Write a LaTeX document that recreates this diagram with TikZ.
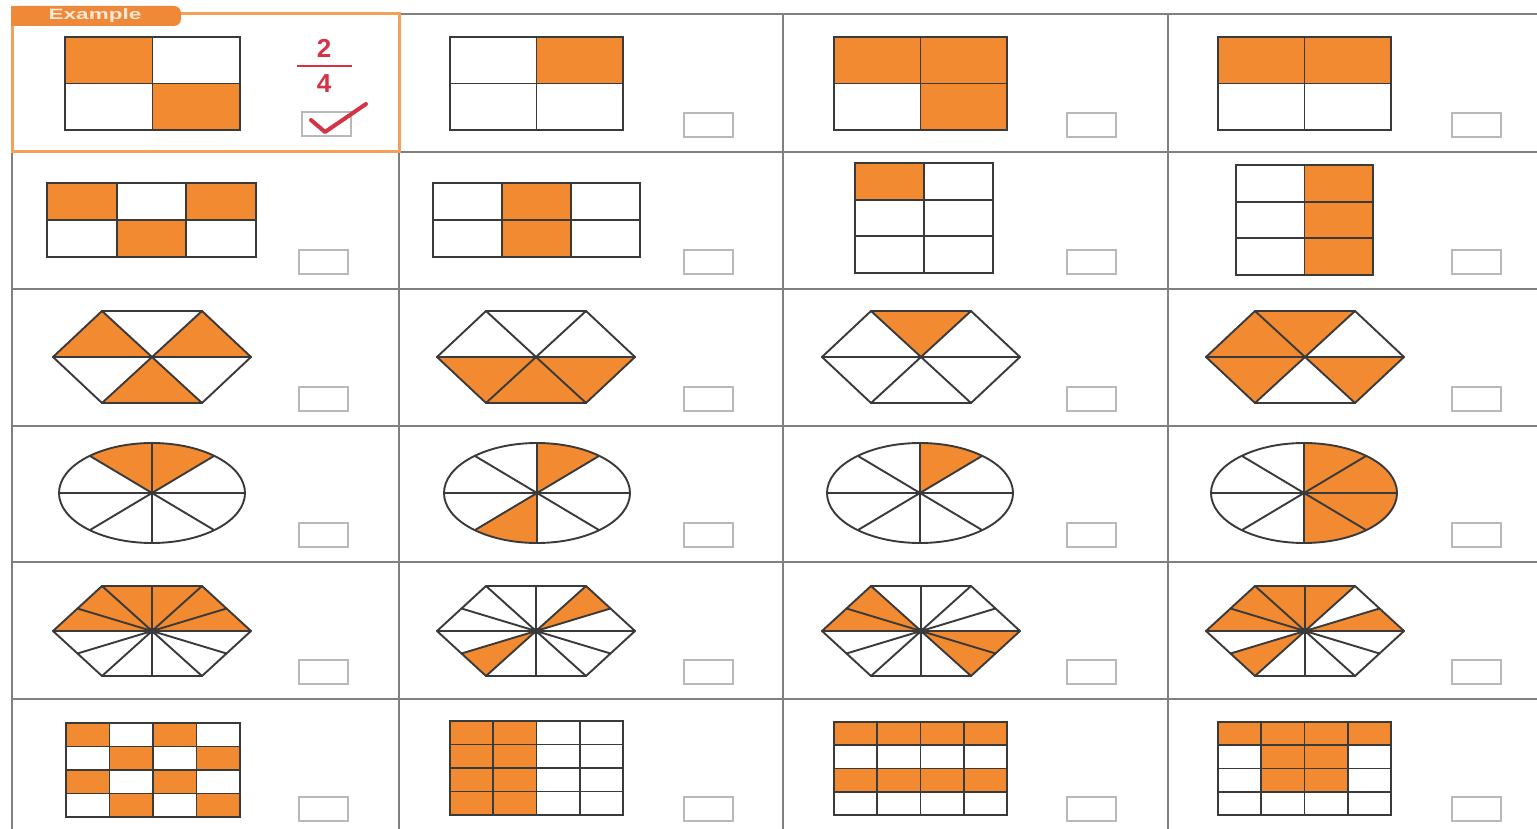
\documentclass[tikz,border=0pt]{standalone}
\usepackage{fontspec}
\setsansfont{Liberation Sans}
\definecolor{orng}{RGB}{242,138,50}
\definecolor{shapeline}{RGB}{58,58,58}
\definecolor{gridgray}{RGB}{128,128,128}
\definecolor{boxgray}{RGB}{185,185,185}
\definecolor{exborder}{RGB}{242,160,90}
\definecolor{extab}{RGB}{240,136,58}
\definecolor{extext}{RGB}{253,232,214}
\definecolor{fracred}{RGB}{214,50,70}
\tikzset{
  shp/.style={draw=shapeline, line width=1.9pt, line cap=round},
  gridln/.style={draw=gridgray, line width=1.8pt},
  cbox/.style={draw=boxgray, line width=1.8pt},
}
\newcommand{\mygrid}[7]{%
  \foreach \c/\r in {#7}{\fill[orng] ({#1+(\c-1)*(#3-#1)/#5},{#2+(\r-1)*(#4-#2)/#6}) rectangle ({#1+\c*(#3-#1)/#5},{#2+\r*(#4-#2)/#6});}
  \pgfmathtruncatemacro{\nca}{#5-1}\pgfmathtruncatemacro{\nra}{#6-1}
  \foreach \i in {1,...,\nca}{\draw[shp] ({#1+\i*(#3-#1)/#5},#2) -- ({#1+\i*(#3-#1)/#5},#4);}
  \foreach \i in {1,...,\nra}{\draw[shp] (#1,{#2+\i*(#4-#2)/#6}) -- (#3,{#2+\i*(#4-#2)/#6});}
  \draw[shp] (#1,#2) rectangle (#3,#4);
}
\newcommand{\hexsix}[3]{%
  \begin{scope}[shift={(#1,#2)}]
    \coordinate (h0) at (99,0);
    \coordinate (h1) at (50,-46);
    \coordinate (h2) at (-50,-46);
    \coordinate (h3) at (-99,0);
    \coordinate (h4) at (-50,46);
    \coordinate (h5) at (50,46);
    \foreach \k in {#3}{\pgfmathtruncatemacro{\kn}{mod(\k+1,6)}\fill[orng] (0,0) -- (h\k) -- (h\kn) -- cycle;}
    \draw[shp] (h0)--(h3) (h1)--(h4) (h2)--(h5);
    \draw[shp,line join=round] (h0)--(h1)--(h2)--(h3)--(h4)--(h5)--cycle;
  \end{scope}}
\newcommand{\hextwelve}[3]{%
  \begin{scope}[shift={(#1,#2)}]
    \coordinate (q0) at (99,0);
    \coordinate (q1) at (74.5,-22.5);
    \coordinate (q2) at (50,-45);
    \coordinate (q3) at (0,-45);
    \coordinate (q4) at (-50,-45);
    \coordinate (q5) at (-74.5,-22.5);
    \coordinate (q6) at (-99,0);
    \coordinate (q7) at (-74.5,22.5);
    \coordinate (q8) at (-50,45);
    \coordinate (q9) at (0,45);
    \coordinate (q10) at (50,45);
    \coordinate (q11) at (74.5,22.5);
    \foreach \k in {#3}{\pgfmathtruncatemacro{\kn}{mod(\k+1,12)}\fill[orng] (0,0) -- (q\k) -- (q\kn) -- cycle;}
    \draw[shp] (q0)--(q6) (q1)--(q7) (q2)--(q8) (q3)--(q9) (q4)--(q10) (q5)--(q11);
    \draw[shp,line join=round] (q0)--(q2)--(q4)--(q6)--(q8)--(q10)--cycle;
    \fill[shapeline] (0,0) circle (3.5);
  \end{scope}}
\newcommand{\ellsect}[3]{%
  \begin{scope}[shift={(#1,#2)}]
    \foreach \a/\b in {#3}{\fill[orng] (0,0) -- plot[domain=\a:\b,samples=16] ({93*cos(\x)},{-50*sin(\x)}) -- cycle;}
    \foreach \a in {0,48,90,132}{\draw[shp] ({93*cos(\a)},{-50*sin(\a)}) -- ({-93*cos(\a)},{50*sin(\a)});}
    \draw[shp] (0,0) ellipse [x radius=93, y radius=50];
    \fill[shapeline] (0,0) circle (2.5);
  \end{scope}}
\newcommand{\cbx}[2]{\draw[cbox] (#1,#2) rectangle ++(49,24);}
\begin{document}
\begin{tikzpicture}[x=1pt,y=-1pt]
\useasboundingbox (0,0) rectangle (1537,829);
\fill[white] (0,0) rectangle (1537,829);
% grid
\foreach \yy in {14,152,289,426,562,699}{\draw[gridln] (12,\yy) -- (1537,\yy);}
\foreach \xx in {12,399,783,1168}{\draw[gridln] (\xx,14) -- (\xx,829);}
% example border and tab
\draw[draw=exborder, line width=3pt] (12,14) rectangle (399,152);
\fill[extab, rounded corners=7pt] (11,6) rectangle (181,26);
\fill[extab] (11,6) rectangle (30,26);
\node[font=\sffamily\bfseries\fontsize{15}{15}\selectfont, text=extext, xscale=1.5, transform shape] (extitle) at (95,16) {Example};
% row 1
\mygrid{65}{37}{240}{130}{2}{2}{1/1,2/2}
\mygrid{450}{37}{623}{130}{2}{2}{2/1}
\mygrid{834}{37}{1007}{130}{2}{2}{1/1,2/1,2/2}
\mygrid{1218}{37}{1391}{130}{2}{2}{1/1,2/1}
% fraction & check
\node[font=\sffamily\bfseries\fontsize{26}{26}\selectfont, text=fracred] (num) at (324,48) {2};
\node[font=\sffamily\bfseries\fontsize{26}{26}\selectfont, text=fracred] (den) at (324,84) {4};
\draw[draw=fracred, line width=2.4pt] (297,66) -- (352,66);
\cbx{302}{112}
\draw[draw=fracred, line width=4pt, line cap=round, line join=round] (311,120) -- (325,132) -- (366,104);
% row 2
\mygrid{47}{183}{256}{257}{3}{2}{1/1,3/1,2/2}
\mygrid{433}{183}{640}{257}{3}{2}{2/1,2/2}
\mygrid{855}{163}{993}{273}{2}{3}{1/1}
\mygrid{1236}{165}{1373}{275}{2}{3}{2/1,2/2,2/3}
% row 3
\hexsix{152}{357}{0,2,4}
\hexsix{536}{357}{3,4,5}
\hexsix{921}{357}{1}
\hexsix{1305}{357}{1,2,3,5}
% row 4
\ellsect{152}{493}{48/90,90/132}
\ellsect{537}{493}{48/90,228/270}
\ellsect{920}{493}{48/90}
\ellsect{1304}{493}{270/312,312/360,0/48,48/90}
% row 5
\hextwelve{152}{631}{0,1,2,3,4,5}
\hextwelve{536}{631}{1,7}
\hextwelve{921}{631}{4,5,10,11}
\hextwelve{1305}{631}{0,2,3,4,5,7}
% row 6
\mygrid{66}{723}{240}{817}{4}{4}{1/1,3/1,2/2,4/2,1/3,3/3,2/4,4/4}
\mygrid{450}{721}{623}{815}{4}{4}{1/1,2/1,1/2,2/2,1/3,2/3,1/4,2/4}
\mygrid{834}{722}{1007}{815}{4}{4}{1/1,2/1,3/1,4/1,1/3,2/3,3/3,4/3}
\mygrid{1218}{722}{1391}{815}{4}{4}{1/1,2/1,3/1,4/1,2/2,3/2,2/3,3/3}
% checkboxes
\foreach \cx in {684,1067,1452}{\cbx{\cx}{113}}
\foreach \ry in {250,387,523,660,797}{\foreach \cx in {299,684,1067,1452}{\cbx{\cx}{\ry}}}
\end{tikzpicture}
\end{document}
